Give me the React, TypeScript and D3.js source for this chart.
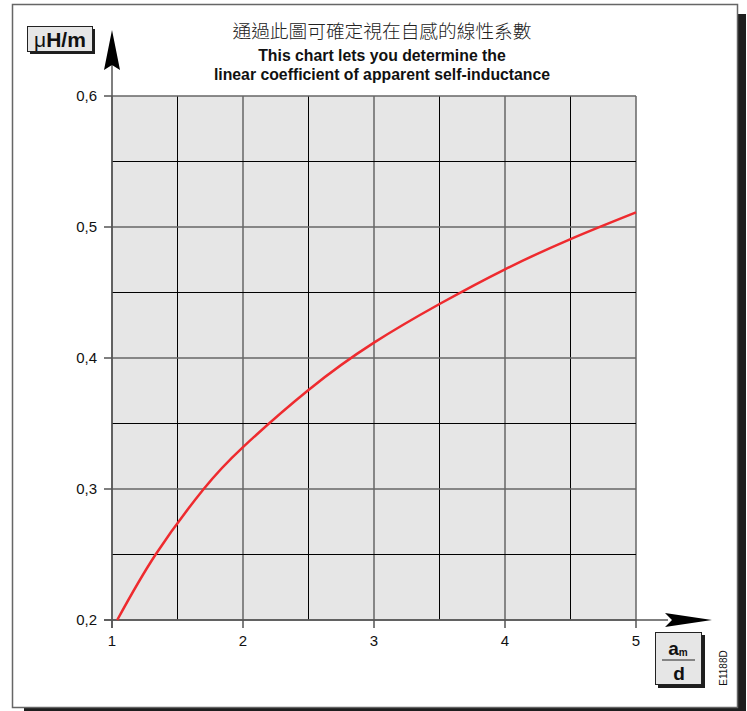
import React from "react";
import * as d3 from "d3";

// Ratio a_m / d (x) and linear self-inductance coefficient in µH/m (y)
const ratio = [1.04, 1.333, 1.7, 2, 2.5, 3, 3.5, 4, 4.5, 5];
const inductance = [0.2, 0.25, 0.3, 0.332, 0.3756, 0.4117, 0.4412, 0.4677, 0.4908, 0.5112];

const xTicks = [1, 2, 3, 4, 5];
const yTicks = [0.2, 0.3, 0.4, 0.5, 0.6];
const xGrid = [1, 1.5, 2, 2.5, 3, 3.5, 4, 4.5, 5];
const yGrid = [0.2, 0.25, 0.3, 0.35, 0.4, 0.45, 0.5, 0.55, 0.6];

const titleZh = "通過此圖可確定視在自感的線性系數";
const titleEn1 = "This chart lets you determine the";
const titleEn2 = "linear coefficient of apparent self-inductance";
const yUnit = "μH/m";
const code = "E1188D";

const W = 747;
const H = 711;
const left = 112;
const right = 636;
const top = 96;
const bottom = 620;

const FONT = "'Liberation Sans', Arial, sans-serif";

export default function App() {
  const x = d3.scaleLinear().domain([1, 5]).range([left, right]);
  const y = d3.scaleLinear().domain([0.2, 0.6]).range([bottom, top]);
  const isMajor = (v: number) => Math.abs(v * 10 - Math.round(v * 10)) < 1e-9;

  const pts = ratio.map((r, i) => [r, inductance[i]] as [number, number]);
  const line = d3
    .line<[number, number]>()
    .x((d) => x(d[0]))
    .y((d) => y(d[1]))
    .curve(d3.curveNatural);

  const fmtY = (v: number) => d3.format(".1f")(v).replace(".", ",");

  return (
    <svg
      width={W}
      height={H}
      style={{ position: "absolute", left: 0, top: 0, display: "block" }}
      fontFamily={FONT}
    >
      <rect x={0} y={0} width={W} height={H} fill="#fff" />
      {/* frame with drop shadow */}
      <rect x={24} y={14} width={722} height={702} fill="#1e1e1e" />
      <rect x={12.5} y={4.5} width={725} height={703} fill="#fff" stroke="#666" strokeWidth={1.5} />

      {/* titles */}
      <text x={382} y={38} textAnchor="middle" fontSize={18.7} fontFamily="'Noto Sans CJK TC', 'Noto Sans CJK SC', sans-serif" fill="#222" fontWeight={300}>
        {titleZh}
      </text>
      <text x={382} y={61} textAnchor="middle" fontSize={15.8} fontWeight="bold" fill="#111">
        {titleEn1}
      </text>
      <text x={382} y={80} textAnchor="middle" fontSize={15.8} fontWeight="bold" fill="#111">
        {titleEn2}
      </text>

      {/* plot area */}
      <rect x={left} y={top} width={right - left} height={bottom - top} fill="#e6e6e6" />
      {xGrid.map((v) => {
        const major = Number.isInteger(v);
        return (
          <line
            key={"gx" + v}
            x1={x(v)}
            x2={x(v)}
            y1={top}
            y2={bottom}
            stroke={major ? "#666" : "#000"}
            strokeWidth={major ? 1.5 : 1}
          />
        );
      })}
      {yGrid.map((v) => {
        const major = isMajor(v);
        return (
          <line
            key={"gy" + v}
            x1={left}
            x2={right}
            y1={y(v)}
            y2={y(v)}
            stroke={major ? "#666" : "#000"}
            strokeWidth={major ? 1.5 : 1}
          />
        );
      })}

      {/* axes */}
      <line x1={left} x2={left} y1={bottom + 8} y2={62} stroke="#555" strokeWidth={1.5} />
      <path d={`M${left},30 L${left + 8},70 L${left},65 L${left - 8},70 Z`} fill="#000" />
      <line x1={left - 8} x2={668} y1={bottom} y2={bottom} stroke="#555" strokeWidth={1.5} />
      <path d={`M712,${bottom} L665,${bottom - 7} L672,${bottom} L665,${bottom + 7} Z`} fill="#000" />

      {yTicks.map((v) => (
        <g key={"ty" + v}>
          <line x1={left - 8} x2={left} y1={y(v)} y2={y(v)} stroke="#555" strokeWidth={1.5} />
          <text x={left - 15} y={y(v) + 5} textAnchor="end" fontSize={15} fill="#111">
            {fmtY(v)}
          </text>
        </g>
      ))}
      {xTicks.map((v) => (
        <g key={"tx" + v}>
          <line x1={x(v)} x2={x(v)} y1={bottom} y2={bottom + 8} stroke="#555" strokeWidth={1.5} />
          <text x={x(v)} y={bottom + 26} textAnchor="middle" fontSize={15} fill="#111">
            {v}
          </text>
        </g>
      ))}

      {/* curve */}
      <path d={line(pts) ?? ""} fill="none" stroke="#ee2b2f" strokeWidth={2.5} />

      {/* unit label */}
      <rect x={30} y={29} width={65} height={25} fill="#1e1e1e" />
      <rect x={27.5} y={26.5} width={65} height={25} fill="#e6e6e6" stroke="#222" strokeWidth={1} />
      <text x={60} y={46.5} textAnchor="middle" fontSize={21} fill="#111">
        <tspan fontWeight="normal">{yUnit.slice(0, 1)}</tspan>
        <tspan fontWeight="bold">{yUnit.slice(1)}</tspan>
      </text>

      {/* ratio label */}
      <rect x={658} y={635} width={47} height={53} fill="#1e1e1e" />
      <rect x={655.5} y={632.5} width={46} height={52} fill="#e6e6e6" stroke="#222" strokeWidth={1} />
      <text x={678} y={655} textAnchor="middle" fontSize={19} fontWeight="bold" fill="#111">
        a<tspan fontSize={10} dy={1}>m</tspan>
      </text>
      <line x1={662} x2={695} y1={660} y2={660} stroke="#222" strokeWidth={1} />
      <text x={679} y={680} textAnchor="middle" fontSize={19} fontWeight="bold" fill="#111">
        d
      </text>

      <text
        transform="translate(727,668) rotate(-90)"
        textAnchor="middle"
        fontSize={10}
        fill="#111"
      >
        {code}
      </text>
    </svg>
  );
}
